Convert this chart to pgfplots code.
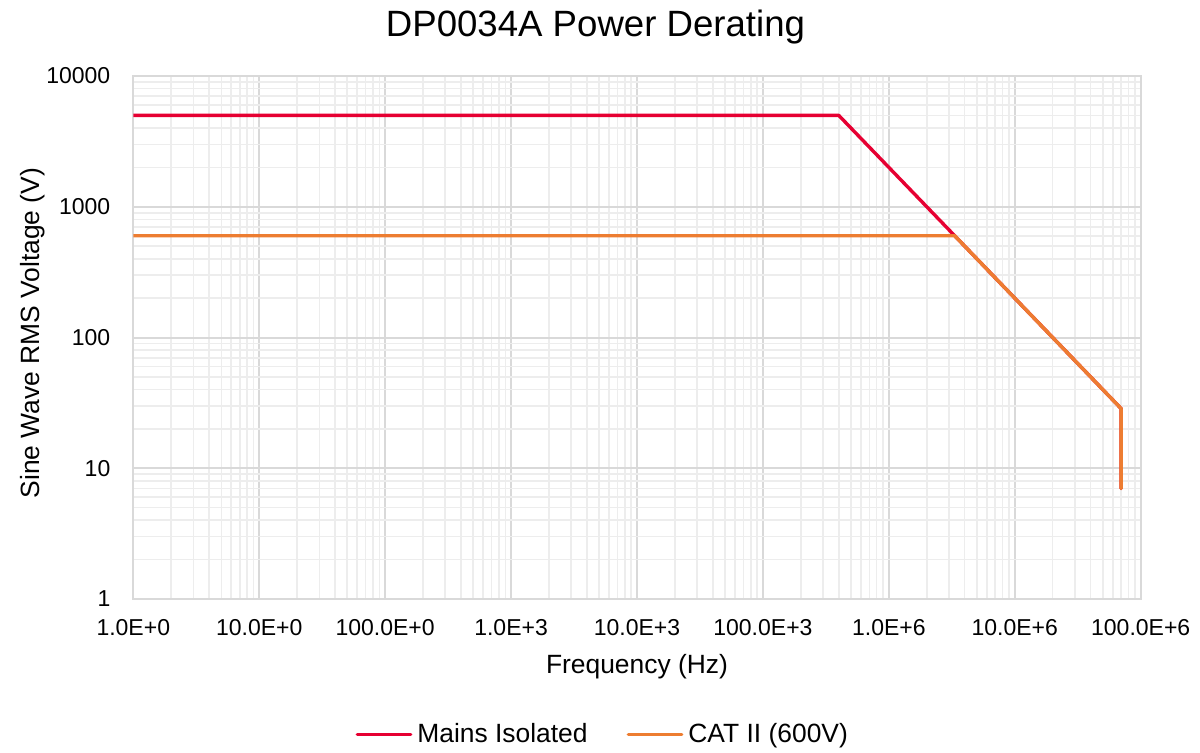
\documentclass[border=0pt]{standalone}
\usepackage{pgfplots}
\pgfplotsset{compat=1.18}
\usepackage{fontspec}
\setmainfont{Liberation Sans}
\definecolor{mainsred}{RGB}{230,0,50}
\definecolor{catorange}{RGB}{237,125,49}
\definecolor{majgrid}{RGB}{217,217,217}
\definecolor{mingrid}{RGB}{237,237,237}
\begin{document}
\begin{tikzpicture}
\useasboundingbox (-66.65pt,-76.5pt) rectangle (533.35pt,299.5pt);
\begin{axis}[
  at={(0,0)}, anchor=south west,
  scale only axis, width=503.7pt, height=261.5pt,
  xmode=log, ymode=log,
  xmin=1, xmax=1e8, ymin=1, ymax=1e4,
  xtick={1,10,100,1e3,1e4,1e5,1e6,1e7,1e8},
  xticklabels={1.0E+0,10.0E+0,100.0E+0,1.0E+3,10.0E+3,100.0E+3,1.0E+6,10.0E+6,100.0E+6},
  ytick={1,10,100,1000,10000},
  yticklabels={1,10,100,1000,10000},
  grid=both,
  major grid style={draw=majgrid, line width=1pt},
  minor grid style={draw=mingrid, line width=0.8pt},
  axis line style={draw=majgrid, line width=1pt},
  major tick length=0pt, minor tick length=0pt,
  tick style={draw=none},
  ticklabel style={font=\fontsize{11.5}{13}\selectfont},
  xticklabel style={inner sep=0pt, anchor=base, yshift=-18pt},
  yticklabel style={inner sep=0pt, anchor=east, xshift=-11.3pt},
  xlabel={Frequency (Hz)},
  xlabel style={font=\fontsize{13.2}{15}\selectfont, inner sep=0pt, at={([yshift=-37.2pt]axis description cs:0.5,0)}, anchor=base},
  ylabel={Sine Wave RMS Voltage (V)},
  ylabel style={font=\fontsize{13.2}{15}\selectfont, inner sep=0pt, at={([xshift=-47pt,yshift=2.2pt]axis description cs:0,0.5)}, anchor=base, rotate=0},
  legend style={at={(axis description cs:0.465,-0.2587)}, anchor=center, draw=none, fill=none,
    inner sep=0pt, column sep=0pt, font=\fontsize{13.2}{15}\selectfont,
    /tikz/every odd column/.append style={column sep=2.5pt},
    /tikz/every even column/.append style={column sep=19.5pt},
    nodes={inner sep=0pt}},
  legend columns=2,
  legend image code/.code={\draw[#1, line width=1.7pt] (0pt,0pt) -- (26.7pt,0pt);},
]
\addplot[mainsred, line width=1.7pt, line cap=round, line join=round] coordinates {(1,5000) (4e5,5000) (7e7,28.57) (7e7,7)};
\addlegendentry{Mains Isolated}
\addplot[catorange, line width=1.7pt, line cap=round, line join=round] coordinates {(1,600) (3.333e6,600) (7e7,28.57) (7e7,7)};
\addlegendentry{CAT II (600V)}
\end{axis}
\node[font=\fontsize{18.3}{22}\selectfont, anchor=base, inner sep=0pt] at (231.1pt,281.5pt) {DP0034A Power Derating};
\end{tikzpicture}
\end{document}
